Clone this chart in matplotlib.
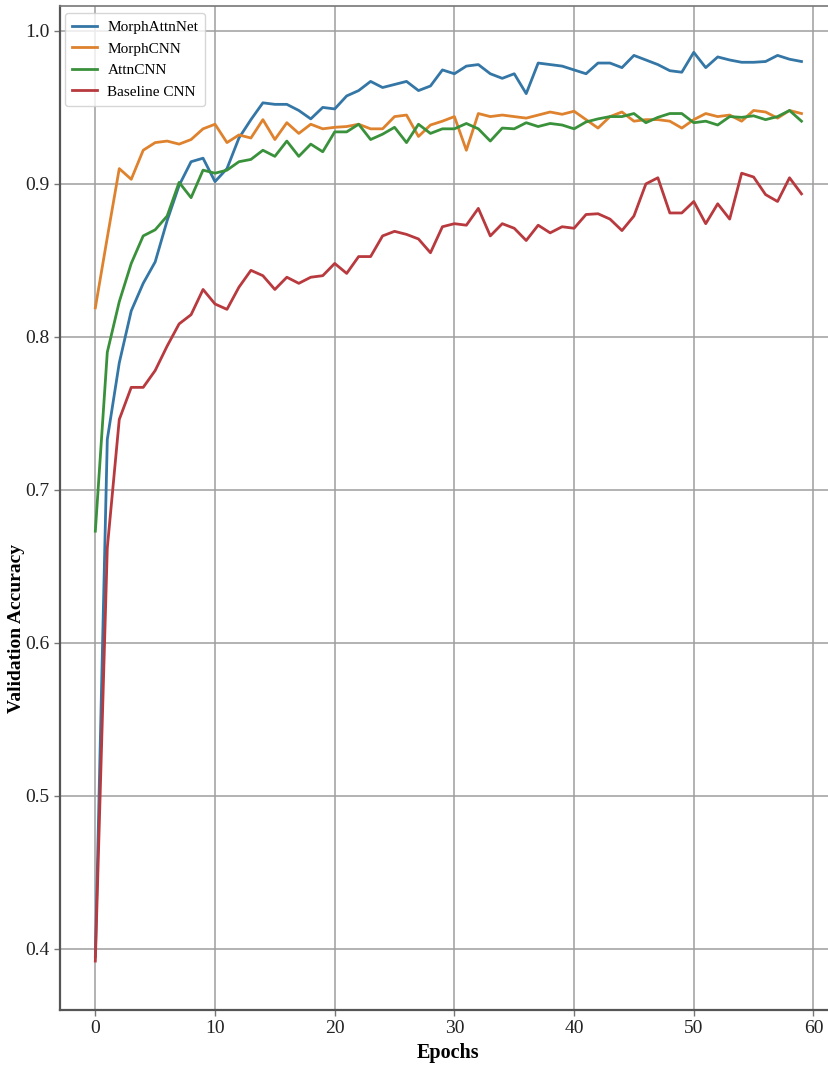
import numpy as np
import matplotlib
matplotlib.use("Agg")
import matplotlib.pyplot as plt

# Validation accuracy per epoch for each model
epochs = list(range(60))

morph_attn_net = [0.395, 0.733, 0.783, 0.817, 0.835, 0.849, 0.876, 0.899, 0.9145, 0.9168,
                  0.9015, 0.910, 0.930, 0.942, 0.953, 0.952, 0.952, 0.948, 0.9425, 0.950,
                  0.949, 0.9575, 0.961, 0.967, 0.963, 0.965, 0.967, 0.961, 0.964, 0.9745,
                  0.972, 0.977, 0.978, 0.972, 0.969, 0.972, 0.959, 0.979, 0.978, 0.977,
                  0.9745, 0.972, 0.979, 0.979, 0.976, 0.984, 0.981, 0.978, 0.974, 0.973,
                  0.986, 0.976, 0.983, 0.981, 0.9795, 0.9795, 0.980, 0.984, 0.9815, 0.980]

morph_cnn = [0.819, 0.865, 0.910, 0.903, 0.922, 0.927, 0.928, 0.926, 0.929, 0.936,
             0.939, 0.927, 0.932, 0.930, 0.942, 0.929, 0.940, 0.933, 0.939, 0.936,
             0.937, 0.9375, 0.939, 0.936, 0.936, 0.944, 0.945, 0.931, 0.9385, 0.941,
             0.944, 0.922, 0.946, 0.944, 0.945, 0.944, 0.943, 0.945, 0.947, 0.9455,
             0.9475, 0.942, 0.9365, 0.944, 0.947, 0.941, 0.942, 0.942, 0.941, 0.9365,
             0.942, 0.946, 0.944, 0.945, 0.941, 0.948, 0.947, 0.943, 0.948, 0.946]

attn_cnn = [0.673, 0.790, 0.823, 0.848, 0.866, 0.870, 0.879, 0.901, 0.891, 0.909,
            0.907, 0.909, 0.9145, 0.916, 0.922, 0.918, 0.928, 0.918, 0.926, 0.921,
            0.934, 0.934, 0.939, 0.929, 0.9325, 0.937, 0.927, 0.939, 0.933, 0.936,
            0.936, 0.9395, 0.936, 0.928, 0.9365, 0.936, 0.940, 0.9375, 0.9395, 0.9385,
            0.936, 0.9405, 0.9425, 0.944, 0.944, 0.946, 0.940, 0.9435, 0.946, 0.946,
            0.940, 0.941, 0.9385, 0.944, 0.9435, 0.9445, 0.942, 0.944, 0.948, 0.941]

baseline_cnn = [0.392, 0.662, 0.746, 0.767, 0.767, 0.778, 0.794, 0.8085, 0.8145, 0.831,
                0.8215, 0.818, 0.8325, 0.8435, 0.840, 0.831, 0.839, 0.835, 0.839, 0.840,
                0.848, 0.8415, 0.8525, 0.8525, 0.866, 0.869, 0.867, 0.864, 0.855, 0.872,
                0.874, 0.873, 0.884, 0.866, 0.874, 0.871, 0.863, 0.873, 0.868, 0.872,
                0.871, 0.880, 0.8805, 0.877, 0.8695, 0.879, 0.900, 0.904, 0.881, 0.881,
                0.8885, 0.874, 0.887, 0.877, 0.907, 0.9045, 0.893, 0.8885, 0.904, 0.8935]

labels = ["MorphAttnNet", "MorphCNN", "AttnCNN", "Baseline CNN"]
colors = ["#3476a5", "#de822e", "#3a913b", "#b8393e"]

plt.rcParams["font.family"] = ["Liberation Serif", "DejaVu Serif"]

fig = plt.figure(figsize=(8.29, 10.68), dpi=100)
ax = fig.add_axes([0.0724, 0.0543, 0.937, 0.9401])

for series, label, color in zip([morph_attn_net, morph_cnn, attn_cnn, baseline_cnn], labels, colors):
    ax.plot(epochs, series, color=color, linewidth=2.0, label=label)

ax.set_xlim(-2.95, 61.95)
ax.set_ylim(0.360, 1.0163)
ax.set_xticks([0, 10, 20, 30, 40, 50, 60])
ax.set_yticks([0.4, 0.5, 0.6, 0.7, 0.8, 0.9, 1.0])

ax.grid(True, color="#9e9e9e", linewidth=1.1)
ax.set_axisbelow(True)

for side in ["left", "bottom"]:
    ax.spines[side].set_color("#555555")
    ax.spines[side].set_linewidth(1.6)
for side in ["top", "right"]:
    ax.spines[side].set_color("#777777")
    ax.spines[side].set_linewidth(1.2)

ax.tick_params(axis="both", labelsize=14, color="#777777", length=4, width=1, colors="#222222")

ax.set_xlabel("Epochs", fontsize=14.5, fontweight="bold", labelpad=4)
ax.set_ylabel("Validation Accuracy", fontsize=14, fontweight="bold")
ax.yaxis.set_label_coords(-0.045, 0.38)

leg = ax.legend(loc="upper left", fontsize=11, labelspacing=0.52, handlelength=1.6,
                handletextpad=0.7, borderpad=0.45, borderaxespad=0.35,
                bbox_to_anchor=(0.0, 0.998), framealpha=0.8)
leg.get_frame().set_edgecolor("#cccccc")

fig.savefig("out.png", dpi=100)
